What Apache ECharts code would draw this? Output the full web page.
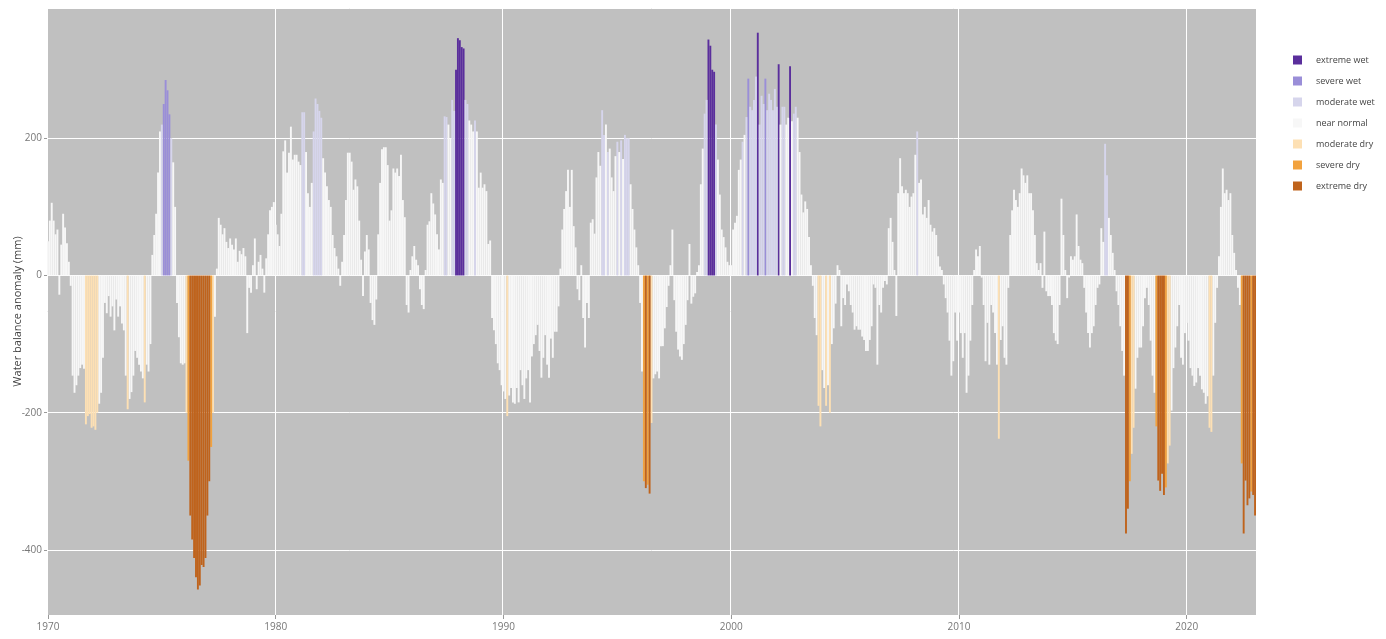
<!DOCTYPE html>
<html><head><meta charset="utf-8">
<script src="https://cdn.jsdelivr.net/npm/echarts@6/dist/echarts.min.js"></script>
<style>html,body{margin:0;padding:0;background:#fff}#c{width:1386px;height:639px}</style>
</head><body><div id="c"></div>
<script>
// Monthly water balance anomaly (mm), Jan..Dec of each year
const v1970 = [50, 80, 106, 80, 60, 67, -28, 45, 90, 70, 47, 20];
const v1971 = [-15, -146, -171, -160, -146, -135, -130, -136, -217, -205, -202, -222];
const v1972 = [-220, -225, -200, -187, -171, -120, -40, -55, -30, -60, -45, -80];
const v1973 = [-35, -60, -45, -70, -80, -146, -195, -180, -170, -146, -110, -120];
const v1974 = [-130, -140, -150, -185, -130, -140, -100, 30, 59, 90, 150, 210];
const v1975 = [220, 250, 285, 270, 235, 200, 165, 100, -40, -90, -128, -130];
const v1976 = [-128, -200, -270, -350, -385, -412, -440, -458, -452, -422, -425, -412];
const v1977 = [-350, -300, -250, -200, -60, 10, 84, 74, 60, 69, 49, 40];
const v1978 = [54, 45, 38, 54, 20, 36, 31, 40, 28, -84, -18, -25];
const v1979 = [15, 54, -20, 20, 30, 10, -25, 25, 60, 95, 100, 107];
const v1980 = [74, 60, 43, 90, 181, 197, 150, 179, 217, 169, 176, 176];
const v1981 = [166, 161, 238, 238, 180, 120, 100, 135, 210, 258, 250, 240];
const v1982 = [230, 171, 150, 130, 110, 100, 59, 40, 28, 10, -15, 20];
const v1983 = [59, 110, 179, 179, 166, 125, 140, 130, 80, 23, -30, 35];
const v1984 = [59, 38, -40, -65, -72, -35, 60, 135, 184, 187, 187, 161];
const v1985 = [80, 95, 156, 150, 156, 145, 176, 110, 85, -43, -54, 8];
const v1986 = [28, 43, 23, 15, -20, -43, -49, 8, 74, 79, 120, 105];
const v1987 = [89, 60, 38, 140, 135, 232, 231, 220, 200, 256, 240, 300];
const v1988 = [346, 343, 333, 331, 256, 250, 226, 220, 210, 226, 210, 128];
const v1989 = [150, 128, 133, 123, 46, 51, -62, -80, -100, -128, -138, -160];
const v1990 = [-169, -180, -205, -175, -164, -185, -187, -164, -185, -138, -160, -180];
const v1991 = [-150, -138, -185, -118, -100, -87, -72, -110, -149, -120, -87, -130];
const v1992 = [-149, -92, -120, -82, -82, -45, 10, 67, 97, 123, 154, 100];
const v1993 = [154, 72, 41, -20, -36, 15, -62, -105, -40, -62, 77, 82];
const v1994 = [61, 143, 180, 160, 241, 205, 220, 180, 185, 143, 123, 174];
const v1995 = [195, 180, 197, 170, 205, 200, 200, 133, 97, 67, 41, 15];
const v1996 = [-40, -140, -300, -310, -305, -318, -215, -150, -144, -140, -150, -103];
const v1997 = [-103, -77, -46, -15, 15, 67, -36, -82, -108, -118, -123, -100];
const v1998 = [-72, -36, 46, -41, -31, -26, 5, 15, 133, 185, 236, 256];
const v1999 = [344, 335, 300, 297, 220, 169, 118, 67, 56, 41, 20, 15];
const v2000 = [15, 67, 77, 87, 154, 169, 195, 205, 231, 287, 246, 241];
const v2001 = [256, 290, 354, 220, 262, 250, 287, 241, 265, 256, 241, 272];
const v2002 = [246, 308, 220, 246, 246, 220, 230, 305, 225, 236, 246, 230];
const v2003 = [180, 118, 92, 108, 97, 56, 15, -15, -62, -87, -190, -220];
const v2004 = [-138, -164, -190, -160, -200, -100, -77, -41, 15, 8, -74, -33];
const v2005 = [-43, -13, -23, -43, -54, -79, -74, -79, -79, -89, -94, -110];
const v2006 = [-110, -94, -74, -13, -18, -130, -43, -54, -18, -8, -13, 69];
const v2007 = [84, 49, 8, -59, 120, 171, 130, 120, 125, 120, 100, 115];
const v2008 = [120, 176, 210, 135, 140, 89, 100, 84, 110, 74, 64, 69];
const v2009 = [59, 28, 13, 8, -13, -33, -54, -95, -146, -125, -54, -95];
const v2010 = [-54, -84, -120, -84, -171, -146, -95, -43, 8, 38, 28, 43];
const v2011 = [-3, -43, -125, -69, -130, -43, -54, -84, -130, -238, -94, -74];
const v2012 = [-120, -130, -18, 59, 95, 125, 110, 100, 120, 156, 146, 135];
const v2013 = [146, 120, 120, 95, 59, 18, 8, 18, -18, 64, -23, -30];
const v2014 = [-30, -43, -84, -95, -100, -43, 112, 59, 8, -33, -3, 28];
const v2015 = [23, 28, 89, 43, 23, 18, -18, -54, -84, -105, -84, -74];
const v2016 = [-43, -18, -13, 69, 49, 192, 146, 84, 59, 33, 8, -23];
const v2017 = [-43, -74, -110, -146, -376, -340, -300, -260, -222, -165, -120, -105];
const v2018 = [-105, -74, -33, -18, -43, -95, -146, -171, -220, -299, -314, -289];
const v2019 = [-320, -309, -274, -248, -197, -135, -105, -74, -43, -120, -130, -84];
const v2020 = [-69, -95, -135, -146, -161, -156, -135, -146, -166, -171, -187, -176];
const v2021 = [-222, -228, -146, -69, -18, 28, 100, 156, 120, 125, 110, 120];
const v2022 = [59, 33, 8, -18, -43, -274, -376, -299, -335, -325, -315, -320];
const v2023 = [-350];

// Months classified in each non-normal category (all other months: near normal)
const extremeWet = ['1987-12','1988-01','1988-02','1988-03','1988-04','1999-01','1999-02','1999-03','1999-04','2001-03','2002-02','2002-08'];
const severeWet = ['1975-02','1975-03','1975-04','1975-05','2000-10','2001-07'];
const moderateWet = ['1975-01','1975-06','1981-03','1981-04','1981-09','1981-10','1981-11','1981-12','1982-01','1987-06','1987-07','1987-10','1987-11','1988-05','1988-06','1988-10','1994-05','1994-06','1994-08','1995-01','1995-03','1995-05','1995-06','1995-07','1998-11','1998-12','1999-05','2000-07','2000-09','2000-11','2000-12','2001-01','2001-02','2001-04','2001-05','2001-06','2001-08','2001-09','2001-10','2001-11','2001-12','2002-01','2002-04','2002-05','2002-10','2002-11','2008-03','2016-06','2016-07'];
const moderateDry = ['1971-09','1971-10','1971-11','1971-12','1972-01','1972-02','1972-03','1973-07','1974-04','1976-02','1977-04','1990-03','1996-07','2003-11','2003-12','2004-03','2004-05','2011-10','2017-08','2017-09','2019-03','2019-04','2021-01','2021-02'];
const severeDry = ['1976-03','1977-03','1996-03','1996-05','2017-07','2018-09','2019-02','2022-06','2022-11'];
const extremeDry = ['1976-04','1976-05','1976-06','1976-07','1976-08','1976-09','1976-10','1976-11','1976-12','1977-01','1977-02','1996-04','1996-06','2017-05','2017-06','2018-10','2018-11','2018-12','2019-01','2022-07','2022-08','2022-09','2022-10','2022-12','2023-01'];

const classNames = ['extreme wet','severe wet','moderate wet','near normal','moderate dry','severe dry','extreme dry'];
const classColors = ['#5a2e9c','#9a8ed8','#d6d5ec','#f7f7f7','#fde0b4','#f2a23e','#bf631c'];
const classMonths = [extremeWet, severeWet, moderateWet, null, moderateDry, severeDry, extremeDry];
const yearTicks = ['1970','1980','1990','2000','2010','2020'];

const values = [].concat(v1970,v1971,v1972,v1973,v1974,v1975,v1976,v1977,v1978,v1979,
  v1980,v1981,v1982,v1983,v1984,v1985,v1986,v1987,v1988,v1989,
  v1990,v1991,v1992,v1993,v1994,v1995,v1996,v1997,v1998,v1999,
  v2000,v2001,v2002,v2003,v2004,v2005,v2006,v2007,v2008,v2009,
  v2010,v2011,v2012,v2013,v2014,v2015,v2016,v2017,v2018,v2019,
  v2020,v2021,v2022,v2023);

const months = values.map((_, i) => {
  const y = 1970 + Math.floor(i / 12), m = i % 12 + 1;
  return y + '-' + (m < 10 ? '0' + m : '' + m);
});
const monthClass = months.map(k => {
  for (let c = 0; c < classMonths.length; c++) {
    if (classMonths[c] && classMonths[c].indexOf(k) >= 0) return c;
  }
  return 3;
});
const isTick = (i) => months[i].slice(5) === '01' && yearTicks.indexOf(months[i].slice(0, 4)) >= 0;

const series = classNames.map((name, c) => ({
  name: name,
  type: 'bar',
  stack: 'all',
  barCategoryGap: '0%',
  itemStyle: { color: classColors[c] },
  data: values.map((v, i) => monthClass[i] === c ? v : '-')
}));

const chart = echarts.init(document.getElementById('c'), null, { renderer: 'canvas' });
chart.setOption({
  animation: false,
  backgroundColor: '#ffffff',
  grid: { left: 47, right: 130, top: 8, bottom: 24, show: true, backgroundColor: '#c0c0c0', borderWidth: 0, containLabel: false, outerBoundsMode: 'none' },
  legend: {
    orient: 'vertical', left: 1288, top: 49, icon: 'rect',
    itemWidth: 9, itemHeight: 9, itemGap: 9,
    data: classNames,
    textStyle: { fontSize: 9, color: '#444', lineHeight: 12, padding: [0, 0, 0, 9], fontFamily: 'Open Sans' }
  },
  xAxis: {
    type: 'category', data: months, boundaryGap: true,
    axisLine: { show: false, onZero: false },
    axisTick: { show: true, alignWithLabel: true, interval: (i) => isTick(i), length: 4, lineStyle: { color: '#999' } },
    axisLabel: { interval: (i) => isTick(i), formatter: (v) => v.slice(0, 4), color: '#777', fontSize: 10, margin: 7, fontFamily: 'Open Sans' },
    splitLine: { show: true, interval: (i) => isTick(i), lineStyle: { color: '#ffffff', width: 1 } }
  },
  yAxis: {
    type: 'value', min: -495, max: 390, splitNumber: 5,
    name: 'Water balance anomaly (mm)', nameLocation: 'middle', nameGap: 24, nameMoveOverlap: false,
    nameTextStyle: { color: '#444', fontSize: 11, fontFamily: 'Open Sans' },
    axisLine: { show: false },
    axisTick: { show: true, length: 3, lineStyle: { color: '#999' } },
    axisLabel: { color: '#777', fontSize: 10, margin: 5, showMinLabel: false, showMaxLabel: false, fontFamily: 'Open Sans' },
    splitLine: { show: true, lineStyle: { color: '#ffffff', width: 1 } }
  },
  series: series
});
</script></body></html>
